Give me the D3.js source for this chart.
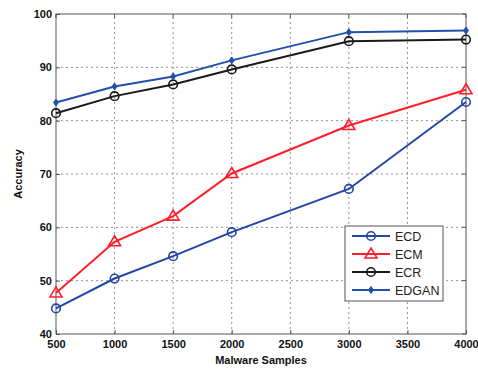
<!DOCTYPE html>
<html><head><meta charset="utf-8">
<script src="https://cdn.jsdelivr.net/npm/d3@7"></script>
<style>body{margin:0;background:#fff}svg{display:block}text{font-family:"Liberation Sans",Arial,sans-serif}</style>
</head><body>
<script>
const samples = [500, 1000, 1500, 2000, 3000, 4000];
const ecd = [44.8, 50.4, 54.6, 59.1, 67.2, 83.5];
const ecm = [47.7, 57.3, 62.1, 70.1, 79.1, 85.8];
const ecr = [81.4, 84.6, 86.8, 89.6, 94.9, 95.2];
const edgan = [83.4, 86.4, 88.3, 91.3, 96.6, 96.9];
const xTicks = [500, 1000, 1500, 2000, 2500, 3000, 3500, 4000];
const yTicks = [40, 50, 60, 70, 80, 90, 100];
const seriesNames = ["ECD", "ECM", "ECR", "EDGAN"];

const W = 478, H = 369;
const m = {l: 56, r: 12, t: 14, b: 35};
const svg = d3.select("body").append("svg").attr("width", W).attr("height", H);
const x = d3.scaleLinear().domain([500, 4000]).range([m.l, W - m.r]);
const y = d3.scaleLinear().domain([40, 100]).range([H - m.b, m.t]);

// grid
const g = svg.append("g");
g.selectAll(".vx").data(xTicks.slice(1, -1)).join("line")
  .attr("x1", d => x(d)).attr("x2", d => x(d)).attr("y1", y(40)).attr("y2", y(100))
  .attr("stroke", "#777").attr("stroke-width", 0.8).attr("stroke-dasharray", "2,3");
g.selectAll(".hy").data(yTicks.slice(1, -1)).join("line")
  .attr("y1", d => y(d)).attr("y2", d => y(d)).attr("x1", x(500)).attr("x2", x(4000))
  .attr("stroke", "#777").attr("stroke-width", 0.8).attr("stroke-dasharray", "2,3");

svg.append("rect").attr("x", x(500)).attr("y", y(100)).attr("width", x(4000) - x(500)).attr("height", y(40) - y(100))
  .attr("fill", "none").attr("stroke", "#555").attr("stroke-width", 1);

const xa = svg.append("g").attr("transform", `translate(0,${y(40)})`)
  .call(d3.axisBottom(x).tickValues(xTicks).tickSize(-4).tickPadding(6).tickFormat(d3.format("d")));
const ya = svg.append("g").attr("transform", `translate(${x(500)},0)`)
  .call(d3.axisLeft(y).tickValues(yTicks).tickSize(-4).tickPadding(4));
[xa, ya].forEach(a => {
  a.select(".domain").remove();
  a.selectAll("line").attr("stroke", "#555");
  a.selectAll("text").attr("font-size", 11).attr("font-weight", "bold").attr("fill", "#111");
});
// right/top ticks
svg.append("g").selectAll("line").data(xTicks).join("line")
  .attr("x1", d => x(d)).attr("x2", d => x(d)).attr("y1", y(100)).attr("y2", y(100) + 4).attr("stroke", "#555");
svg.append("g").selectAll("line").data(yTicks).join("line")
  .attr("y1", d => y(d)).attr("y2", d => y(d)).attr("x1", x(4000)).attr("x2", x(4000) - 4).attr("stroke", "#555");

svg.append("text").attr("x", (x(500) + x(4000)) / 2).attr("y", 364).attr("text-anchor", "middle")
  .attr("font-size", 11).attr("font-weight", "bold").attr("fill", "#111").text("Malware Samples");
svg.append("text").attr("transform", `translate(22,${(y(40) + y(100)) / 2}) rotate(-90)`).attr("text-anchor", "middle")
  .attr("font-size", 11).attr("font-weight", "bold").attr("fill", "#111").text("Accuracy");

const series = [
  {name: "ECD", vals: ecd, color: "#2346a6", marker: "circle"},
  {name: "ECM", vals: ecm, color: "#ff1f2a", marker: "triangle"},
  {name: "ECR", vals: ecr, color: "#1a1a1a", marker: "circle"},
  {name: "EDGAN", vals: edgan, color: "#2150ad", marker: "diamond"}
];
const line = d3.line().x((d, i) => x(samples[i])).y(d => y(d));

function drawMarker(sel, s, cx, cy) {
  if (s.marker === "circle") {
    sel.append("circle").attr("cx", cx).attr("cy", cy).attr("r", 4.3)
      .attr("fill", "none").attr("stroke", s.color).attr("stroke-width", 1.6);
  } else if (s.marker === "triangle") {
    sel.append("path").attr("d", `M${cx},${cy - 6}L${cx + 6},${cy + 4}L${cx - 6},${cy + 4}Z`)
      .attr("fill", "none").attr("stroke", s.color).attr("stroke-width", 1.6);
  } else {
    sel.append("path").attr("d", `M${cx},${cy - 3.5}L${cx + 2.5},${cy}L${cx},${cy + 3.5}L${cx - 2.5},${cy}Z`)
      .attr("fill", s.color).attr("stroke", s.color).attr("stroke-width", 1);
  }
}

series.forEach(s => {
  const gs = svg.append("g");
  gs.append("path").datum(s.vals).attr("d", line).attr("fill", "none")
    .attr("stroke", s.color).attr("stroke-width", 2);
  s.vals.forEach((v, i) => drawMarker(gs, s, x(samples[i]), y(v)));
});

// legend
const lg = svg.append("g");
lg.append("rect").attr("x", 345).attr("y", 226).attr("width", 98).attr("height", 75)
  .attr("fill", "#fff").attr("stroke", "#555").attr("stroke-width", 1);
series.forEach((s, i) => {
  const ly = 236 + i * 18;
  lg.append("line").attr("x1", 352).attr("x2", 390).attr("y1", ly).attr("y2", ly)
    .attr("stroke", s.color).attr("stroke-width", 2);
  drawMarker(lg, s, 371, ly);
  lg.append("text").attr("x", 395).attr("y", ly + 4.5).attr("font-size", 12.5).attr("fill", "#222").text(seriesNames[i]);
});
</script>
</body></html>
